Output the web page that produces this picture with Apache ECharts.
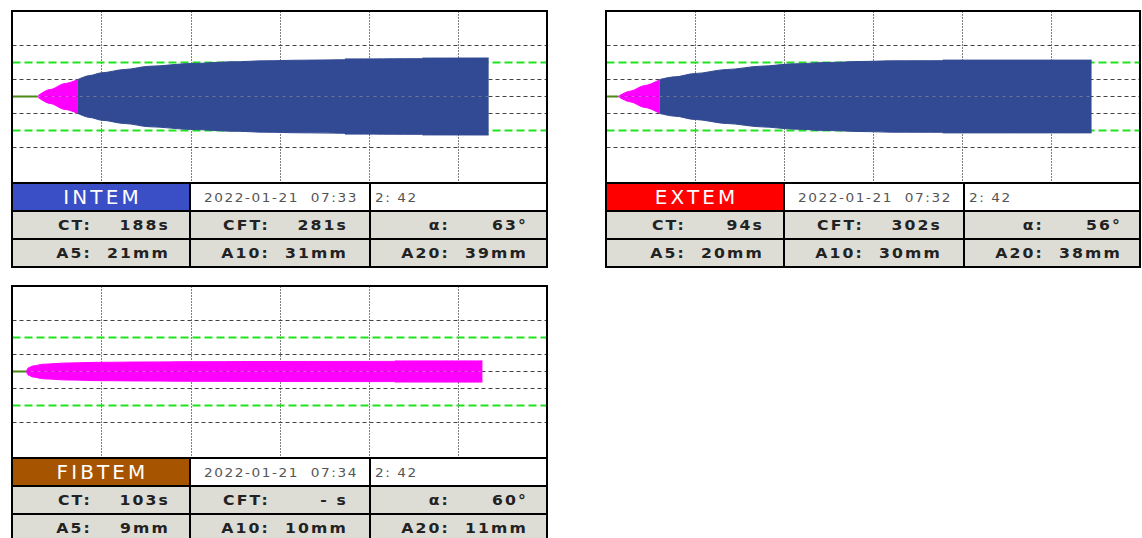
<!DOCTYPE html>
<html><head><meta charset="utf-8">
<script src="https://cdn.jsdelivr.net/npm/echarts@6/dist/echarts.min.js"></script>
<style>
html,body{margin:0;padding:0;background:#fff;}
#c{width:1142px;height:538px;}
#c text[style*="bold"]{letter-spacing:2px;}
#c text[style*="19px"]{letter-spacing:3px;}
#c text[style*="13px"]{letter-spacing:1.5px;}
</style></head><body><div id="c"></div>
<script>
// ---------- data ----------
const testNames = ['INTEM', 'EXTEM', 'FIBTEM'];
const testDates = ['2022-01-21  07:33', '2022-01-21  07:32', '2022-01-21  07:34'];
const testIds = ['2: 42', '2: 42', '2: 42'];
const rowLabels1 = ['CT:', 'CFT:', 'α:'];
const rowLabels2 = ['A5:', 'A10:', 'A20:'];
const ctValues = ['188s', '94s', '103s'];
const cftValues = ['281s', '302s', '- s'];
const alphaValues = ['63°', '56°', '60°'];
const a5Values = ['21mm', '20mm', '9mm'];
const a10Values = ['31mm', '30mm', '10mm'];
const a20Values = ['39mm', '38mm', '11mm'];

// trace time (min) and amplitude (mm)
const intemTime = [2.75, 4.2, 5.9, 7.34, 8.69, 10.0, 12.6, 15.4, 20.1, 24.7, 28.4, 32.2, 37.2, 37.3, 45.9, 46.0, 53.4];
const intemAmp  = [0, 8.2, 15.3, 20, 24.7, 27.9, 31.8, 35.6, 38.8, 40.8, 42.0, 42.7, 43.2, 44.2, 44.5, 45.2, 45.3];
const extemTime = [1.32, 2.63, 4.31, 6.0, 7.68, 9.92, 13.6, 17.4, 21.1, 24.8, 28.6, 32.3, 37.7, 37.8, 54.5];
const extemAmp  = [0, 6.2, 12.9, 20, 23.1, 27, 31.8, 35.7, 38.4, 40, 41.2, 42, 42.1, 42.8, 42.8];
const fibtemTime = [1.55, 1.8, 2.3, 3.45, 6.1, 9.8, 15, 20.1, 30, 42.8, 42.9, 52.7];
const fibtemAmp  = [0, 4.5, 6.5, 8.6, 10.0, 10.8, 11.2, 11.5, 11.8, 11.9, 12.4, 12.5];

const grayLevels = [-30, -10, 0, 10, 30];
const greenLevels = [-20, 20];
const cftThreshold = 20;

// ---------- styles / layout ----------
const headerColors = ['#3a4ec6', '#ff0000', '#a65400'];
const panels = [{x: 11, y: 10, w: 537}, {x: 605, y: 10, w: 536}, {x: 11, y: 285, w: 537}];
const traces = [[intemTime, intemAmp], [extemTime, extemAmp], [fibtemTime, fibtemAmp]];
const BLUE = '#324a93', MAGENTA = '#ff00ff', BASE = '#4b8a14';

const grids = [], xAxes = [], yAxes = [], series = [], graphics = [];

function areaSeries(i, pts, color, sign) {
  return {
    type: 'line', xAxisIndex: i, yAxisIndex: i, z: 3, silent: true,
    data: pts.map(p => [p[0], sign * p[1] / 2]),
    symbol: 'none', smooth: 0.3, smoothMonotone: 'x',
    lineStyle: {color: color, width: 1},
    areaStyle: {color: color, opacity: 1}
  };
}

traces.forEach((tr, i) => {
  const p = panels[i];
  grids.push({left: p.x + 1.5, top: p.y + 1.5, width: p.w - 2, height: 170, show: false});
  xAxes.push({
    type: 'value', gridIndex: i, min: 0, max: 60, interval: 10, z: 1,
    axisLine: {show: false}, axisTick: {show: false}, axisLabel: {show: false},
    splitLine: {show: true, lineStyle: {color: '#000', type: [1, 2], width: 1}}
  });
  yAxes.push({
    type: 'value', gridIndex: i, min: -50, max: 50, z: 1,
    axisLine: {show: false}, axisTick: {show: false}, axisLabel: {show: false},
    splitLine: {show: false}
  });
  grayLevels.forEach(v => series.push({
    type: 'line', xAxisIndex: i, yAxisIndex: i, z: 2, silent: true, symbol: 'none',
    data: [[0, v], [60, v]], lineStyle: {color: '#444', width: 1, type: [4, 3]}
  }));
  greenLevels.forEach(v => series.push({
    type: 'line', xAxisIndex: i, yAxisIndex: i, z: 2, silent: true, symbol: 'none',
    data: [[0, v], [60, v]], lineStyle: {color: '#1ee41e', width: 2, type: [8, 4]}
  }));
  const [times, amps] = tr;
  const pts = times.map((t, k) => [t, amps[k]]);
  const early = pts.filter(q => q[1] <= cftThreshold);
  const late = pts.filter(q => q[1] >= cftThreshold);
  series.push(areaSeries(i, early, MAGENTA, 1));
  series.push(areaSeries(i, early, MAGENTA, -1));
  if (late.length > 1) {
    series.push(areaSeries(i, late, BLUE, 1));
    series.push(areaSeries(i, late, BLUE, -1));
  }
  series.push({
    type: 'line', xAxisIndex: i, yAxisIndex: i, z: 4, silent: true, symbol: 'none',
    data: [[0, 0], [times[0], 0]], lineStyle: {color: BASE, width: 2}
  });

  // panel frame and table
  graphics.push({type: 'rect', z: -5, silent: true, shape: {x: p.x, y: p.y, width: p.w, height: 258}, style: {fill: '#000'}});
  graphics.push({type: 'rect', z: -4, silent: true, shape: {x: p.x + 2, y: p.y + 2, width: p.w - 4, height: 170}, style: {fill: '#fff'}});
  graphics.push({type: 'rect', z: 20, silent: true, shape: {x: p.x + 1, y: p.y + 1, width: p.w - 2, height: 172}, style: {fill: 'none', stroke: '#000', lineWidth: 2}});
  const colX = [p.x + 2, p.x + 180, p.x + 360];
  const colW = [176, 178, p.w - 362];
  const rowY = [p.y + 174, p.y + 202, p.y + 230];
  for (let r = 0; r < 3; r++) {
    for (let c = 0; c < 3; c++) {
      let fill = '#dddcd5';
      if (r === 0) fill = c === 0 ? headerColors[i] : '#fff';
      graphics.push({type: 'rect', z: -4, silent: true, shape: {x: colX[c], y: rowY[r], width: colW[c], height: 26}, style: {fill: fill}});
    }
  }
  const txt = (text, x, y, font, fill, align, sx) => ({
    type: 'text', z: 10, silent: true, x: x, y: y, scaleX: sx, scaleY: 1,
    style: {text: text, x: 0, y: 0, font: font, fill: fill, align: align, verticalAlign: 'middle', textAlign: align, textVerticalAlign: 'middle'}
  });
  const hy = rowY[0] + 13.5;
  graphics.push(txt(testNames[i], colX[0] + colW[0] / 2 + 1.5, hy, 'normal 19px "DejaVu Sans"', '#fff', 'center', 1.05));
  graphics.push(txt(testDates[i], colX[1] + 13, hy, 'normal 13px "DejaVu Sans"', '#555', 'left', 1.05));
  graphics.push(txt(testIds[i], colX[2] + 4, hy, 'normal 13px "DejaVu Sans"', '#555', 'left', 1.05));
  const row1 = [ctValues[i], cftValues[i], alphaValues[i]];
  const row2 = [a5Values[i], a10Values[i], a20Values[i]];
  const bf = 'bold 14.5px "DejaVu Sans"';
  for (let c = 0; c < 3; c++) {
    graphics.push(txt(rowLabels1[c], colX[c] + 79, rowY[1] + 13.5, bf, '#222', 'right', 1.08));
    graphics.push(txt(row1[c], colX[c] + 157, rowY[1] + 13.5, bf, '#222', 'right', 1.08));
    graphics.push(txt(rowLabels2[c], colX[c] + 79, rowY[2] + 13.5, bf, '#222', 'right', 1.08));
    graphics.push(txt(row2[c], colX[c] + 157, rowY[2] + 13.5, bf, '#222', 'right', 1.08));
  }
});

const chart = echarts.init(document.getElementById('c'), null, {renderer: 'svg', width: 1142, height: 538});
chart.setOption({
  animation: false,
  backgroundColor: '#fff',
  grid: grids, xAxis: xAxes, yAxis: yAxes, series: series,
  graphic: {elements: graphics}
});
</script></body></html>
